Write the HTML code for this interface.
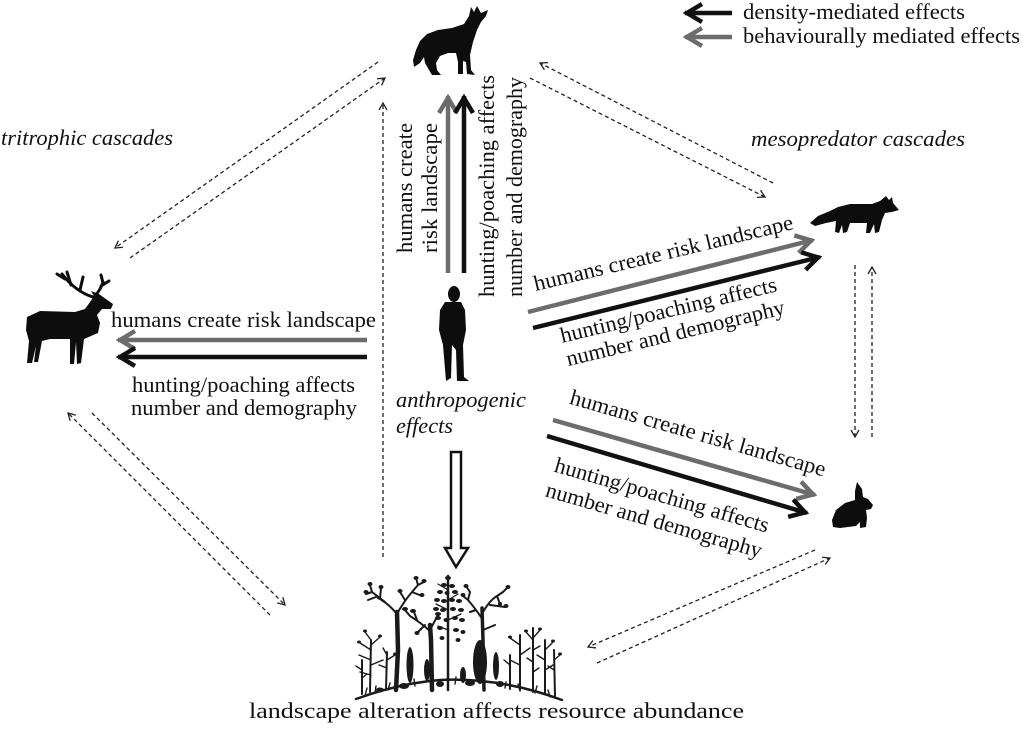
<!DOCTYPE html>
<html><head><meta charset="utf-8"><style>
html,body{margin:0;padding:0;background:#fff;}
svg{display:block;}
text{font-family:"Liberation Serif","Times New Roman",Times,serif;font-size:22px;fill:#111;}
.i{font-style:italic;}
</style></head><body>
<svg width="1024" height="731" viewBox="0 0 1024 731" xmlns="http://www.w3.org/2000/svg" font-family="Liberation Serif, Times New Roman, serif">
<defs>
<marker id="mb" viewBox="-22 -12 26 24" refX="0" refY="0" markerWidth="26" markerHeight="24" markerUnits="userSpaceOnUse" orient="auto">
<path d="M-17 -9 L-2 0 L-17 9" fill="none" stroke="#111" stroke-width="4.5" stroke-dasharray="none"/>
</marker>
<marker id="mg" viewBox="-22 -12 26 24" refX="0" refY="0" markerWidth="26" markerHeight="24" markerUnits="userSpaceOnUse" orient="auto">
<path d="M-17 -9 L-2 0 L-17 9" fill="none" stroke="#6c6c6c" stroke-width="4.5" stroke-dasharray="none"/>
</marker>
<marker id="md" viewBox="-10 -6 12 12" refX="0" refY="0" markerWidth="12" markerHeight="12" markerUnits="userSpaceOnUse" orient="auto">
<path d="M-7 -4 L0 0 L-7 4" fill="none" stroke="#222" stroke-width="1.3" stroke-dasharray="none"/>
</marker>
</defs>

<!-- legend -->
<line x1="732" y1="13" x2="685" y2="13" stroke="#111" stroke-width="4.5" marker-end="url(#mb)"/>
<line x1="732" y1="37" x2="685" y2="37" stroke="#6c6c6c" stroke-width="4.5" marker-end="url(#mg)"/>
<text x="743" y="19" textLength="222" lengthAdjust="spacingAndGlyphs">density-mediated effects</text>
<text x="743" y="43" textLength="277" lengthAdjust="spacingAndGlyphs">behaviourally mediated effects</text>

<text class="i" x="1" y="145" textLength="172" lengthAdjust="spacingAndGlyphs">tritrophic cascades</text>
<text class="i" x="751" y="146" textLength="214" lengthAdjust="spacingAndGlyphs">mesopredator cascades</text>

<!-- dashed connectors -->
<g stroke="#222" stroke-width="1.3" stroke-dasharray="4 3" fill="none">
<line x1="378" y1="62" x2="115" y2="248" marker-end="url(#md)"/>
<line x1="130" y1="258" x2="385" y2="78" marker-end="url(#md)"/>
<line x1="773" y1="183" x2="540" y2="63" marker-end="url(#md)"/>
<line x1="530" y1="78" x2="765" y2="197" marker-end="url(#md)"/>
<line x1="855" y1="265" x2="855" y2="437" marker-end="url(#md)"/>
<line x1="872" y1="437" x2="872" y2="267" marker-end="url(#md)"/>
<line x1="815" y1="550" x2="588" y2="647" marker-end="url(#md)"/>
<line x1="597" y1="663" x2="830" y2="558" marker-end="url(#md)"/>
<line x1="270" y1="615" x2="68" y2="413" marker-end="url(#md)"/>
<line x1="92" y1="413" x2="285" y2="605" marker-end="url(#md)"/>
<line x1="383" y1="557" x2="383" y2="103" marker-end="url(#md)"/>
</g>

<!-- thick arrows -->
<line x1="448" y1="273" x2="448" y2="96" stroke="#6c6c6c" stroke-width="4.5" marker-end="url(#mg)"/>
<line x1="464" y1="273" x2="464" y2="96" stroke="#111" stroke-width="4.5" marker-end="url(#mb)"/>
<line x1="367" y1="340" x2="118" y2="340" stroke="#6c6c6c" stroke-width="4.5" marker-end="url(#mg)"/>
<line x1="367" y1="357" x2="118" y2="357" stroke="#111" stroke-width="4.5" marker-end="url(#mb)"/>
<line x1="528" y1="312" x2="813" y2="240" stroke="#6c6c6c" stroke-width="4.5" marker-end="url(#mg)"/>
<line x1="533" y1="328" x2="820" y2="257" stroke="#111" stroke-width="4.5" marker-end="url(#mb)"/>
<line x1="553" y1="420" x2="815" y2="495" stroke="#6c6c6c" stroke-width="4.5" marker-end="url(#mg)"/>
<line x1="547" y1="436" x2="807" y2="513" stroke="#111" stroke-width="4.5" marker-end="url(#mb)"/>

<!-- hollow arrow -->
<polygon points="451,452 461,452 461,548 468,548 456,567 445,548 451,548" fill="#fff" stroke="#111" stroke-width="2.5" stroke-linejoin="miter"/>

<!-- wolf texts -->
<text text-anchor="middle" transform="translate(412,188) rotate(-90)" textLength="130" lengthAdjust="spacingAndGlyphs">humans create</text>
<text text-anchor="middle" transform="translate(437,188) rotate(-90)" textLength="130" lengthAdjust="spacingAndGlyphs">risk landscape</text>
<text text-anchor="middle" transform="translate(494,186) rotate(-90)" textLength="222" lengthAdjust="spacingAndGlyphs">hunting/poaching affects</text>
<text text-anchor="middle" transform="translate(522,187) rotate(-90)" textLength="220" lengthAdjust="spacingAndGlyphs">number and demography</text>

<!-- deer texts -->
<text x="111" y="327" textLength="265" lengthAdjust="spacingAndGlyphs">humans create risk landscape</text>
<text x="132" y="392" textLength="223" lengthAdjust="spacingAndGlyphs">hunting/poaching affects</text>
<text x="131" y="415" textLength="226" lengthAdjust="spacingAndGlyphs">number and demography</text>

<!-- anthropogenic -->
<text class="i" x="396" y="407" textLength="130" lengthAdjust="spacingAndGlyphs">anthropogenic</text>
<text class="i" x="396" y="433" textLength="57" lengthAdjust="spacingAndGlyphs">effects</text>

<!-- fox texts -->
<text text-anchor="middle" transform="translate(665,260) rotate(-13.5)" textLength="266" lengthAdjust="spacingAndGlyphs">humans create risk landscape</text>
<text text-anchor="middle" transform="translate(670,317) rotate(-13.5)" textLength="222" lengthAdjust="spacingAndGlyphs">hunting/poaching affects</text>
<text text-anchor="middle" transform="translate(677,340) rotate(-13.5)" textLength="224" lengthAdjust="spacingAndGlyphs">number and demography</text>

<!-- hare texts -->
<text text-anchor="middle" transform="translate(696,440) rotate(16)" textLength="265" lengthAdjust="spacingAndGlyphs">humans create risk landscape</text>
<text text-anchor="middle" transform="translate(660,502) rotate(16)" textLength="222" lengthAdjust="spacingAndGlyphs">hunting/poaching affects</text>
<text text-anchor="middle" transform="translate(652,527) rotate(16)" textLength="224" lengthAdjust="spacingAndGlyphs">number and demography</text>

<text x="249" y="718" textLength="495" lengthAdjust="spacingAndGlyphs">landscape alteration affects resource abundance</text>

<!-- wolf -->
<path fill="#0d0d0d" d="M488 10 L481 13 L477 6 L474 12 L471 7 L469 16 L464 24 L452 28 L438 30 L427 34 L420 41 L416 50 L413 60 L414 67 L420 63 L424 57 L425 63 L429 70 L432 75 L441 75 L437 70 L436 63 L440 56 L448 53 L456 53 L458 62 L458 74 L463 74 L463 61 L466 62 L467 74 L475 75 L471 70 L470 55 L473 42 L477 30 L481 22 L486 16 Z"/>

<!-- deer -->
<path fill="#0d0d0d" d="M27 317 L40 311 L75 312 L85 309 L90 302 L94 296 L91 291 L99 294 L103 297 L113 304 L111 309 L102 309 L97 315 L100 323 L98 333 L84 339 L81 363 L77 364 L76 342 L74 364 L70 364 L70 339 L50 339 L42 341 L38 362 L34 362 L36 346 L32 363 L27 363 L29 341 L26 330 Z"/>
<g stroke="#0d0d0d" stroke-width="3" fill="none" stroke-linecap="round">
<path d="M93 297 Q 76 292 62 274"/>
<path d="M71 285 L67 272"/>
<path d="M80 290 L83 277"/>
<path d="M65 279 L57 274"/>
<path d="M95 296 Q 101 289 103 282"/>
<path d="M101 286 L109 281"/>
<path d="M103 283 L101 275"/>
</g>

<!-- fox -->
<path fill="#0d0d0d" d="M810 223 L818 216 L830 211 L838 207 L850 204 L872 204 L880 201 L886 196 L889 200 L892 197 L893 203 L899 210 L892 212 L885 213 L882 220 L879 232 L875 233 L874 224 L870 233 L866 233 L867 223 L850 223 L847 232 L843 233 L842 225 L839 233 L835 232 L836 221 L826 223 L815 226 Z"/>

<!-- hare -->
<path fill="#0d0d0d" d="M857 482 L862 489 L863 497 L868 499 L873 505 L871 509 L866 510 L867 518 L866 527 L860 528 L860 522 L856 526 L840 528 L833 527 L832 520 L836 510 L845 503 L855 500 L855 491 Z"/>

<!-- human -->
<ellipse cx="454" cy="294" rx="6" ry="8" fill="#0d0d0d"/>
<path fill="#0d0d0d" d="M445 302 L461 302 L465 310 L466 330 L463 345 L464 377 L469 381 L457 381 L456 350 L452 345 L451 378 L446 381 L443 345 L439 330 L440 310 Z"/>

<!-- forest -->
<g stroke="#1a1a1a" fill="none" stroke-linecap="round">
<path d="M356 699 Q 400 683 440 680 Q 500 677 562 700" stroke-width="2.5"/>
<!-- tree A -->
<path d="M396 690 L398 650 L397 612" stroke-width="4.5"/>
<path d="M397 614 Q 388 603 378 598 M385 602 L372 592 M380 599 L381 588 M372 592 L366 594 M372 592 L370 585 M398 612 Q 405 600 412 592 M412 592 L418 585 M412 592 L422 596 M405 600 L400 592 M376 597 L368 600 M418 585 L416 578 M418 585 L424 582" stroke-width="2"/>
<!-- tree B -->
<path d="M448 690 L448 576" stroke-width="2.5"/>
<path d="M448 590 L438 584 M448 600 L458 594 M448 610 L436 604 M448 620 L461 614 M448 630 L438 626" stroke-width="1.3"/>
<!-- tree C -->
<path d="M484 690 L483 640 L482 608" stroke-width="3.5"/>
<path d="M483 620 Q 475 608 468 600 M468 600 L463 596 M468 600 L470 592 M483 612 Q 490 600 497 596 M497 596 L503 592 M497 596 L500 604 M490 605 L505 607 M476 610 L470 612 M483 630 L495 625 M470 592 L466 586 M503 592 L508 587" stroke-width="2"/>
<!-- tree D -->
<path d="M432 690 L431 640 L430 625" stroke-width="4.5"/>
<path d="M431 632 Q 420 622 410 616 M410 616 L405 610 M417 620 L414 612 M431 628 L438 615 M425 625 L418 632" stroke-width="2"/>
<!-- tree E -->
<path d="M370 692 L371 640 M386 690 L387 652 M362 694 L362 660" stroke-width="2"/>
<path d="M371 650 L360 643 M371 660 L359 655 M371 645 L380 637 M371 665 L383 660 M371 675 L360 672 M371 640 L365 632 M387 660 L395 655 M387 668 L379 665 M387 655 L383 648 M362 670 L356 666 M362 678 L367 674" stroke-width="1.4"/>
<!-- tree F -->
<path d="M520 690 L520 635 M545 694 L545 640 M533 692 L533 628 M555 696 L554 650 M510 689 L510 655" stroke-width="2"/>
<path d="M520 645 L510 638 M520 655 L530 648 M520 665 L510 660 M545 650 L553 642 M545 660 L537 655 M545 670 L553 665 M533 640 L526 632 M533 638 L540 630 M533 650 L540 646 M554 660 L560 655 M554 670 L548 666 M510 665 L504 660 M533 662 L527 658 M533 672 L539 668" stroke-width="1.4"/>
<!-- grass -->
<path d="M365 696 L367 688 M375 693 L376 686 M388 690 L390 683 M520 691 L518 684 M535 693 L537 686 M550 697 L548 690 M505 688 L506 682 M415 686 L414 679 M455 684 L456 677" stroke-width="1.4"/>
</g>
<g fill="#1a1a1a">
<!-- tree B foliage -->
<ellipse cx="448" cy="578" rx="3" ry="2"/>
<ellipse cx="444" cy="585" rx="3" ry="2"/><ellipse cx="452" cy="586" rx="3" ry="2"/>
<ellipse cx="440" cy="592" rx="3" ry="2"/><ellipse cx="447" cy="593" rx="2.5" ry="2"/><ellipse cx="455" cy="592" rx="3" ry="2"/>
<ellipse cx="437" cy="600" rx="3" ry="2"/><ellipse cx="444" cy="601" rx="3" ry="2"/><ellipse cx="452" cy="600" rx="3" ry="2"/><ellipse cx="459" cy="601" rx="3" ry="2"/>
<ellipse cx="436" cy="609" rx="3" ry="2"/><ellipse cx="443" cy="610" rx="3" ry="2"/><ellipse cx="453" cy="609" rx="3" ry="2"/><ellipse cx="461" cy="610" rx="3" ry="2"/>
<ellipse cx="438" cy="618" rx="3" ry="2"/><ellipse cx="446" cy="620" rx="2.5" ry="2"/><ellipse cx="455" cy="618" rx="3" ry="2"/><ellipse cx="462" cy="620" rx="3" ry="2"/>
<ellipse cx="440" cy="628" rx="3" ry="2"/><ellipse cx="456" cy="630" rx="3" ry="2"/><ellipse cx="463" cy="632" rx="2.5" ry="2"/>
<ellipse cx="442" cy="638" rx="2.5" ry="2"/><ellipse cx="458" cy="640" rx="2.5" ry="2"/>
<!-- leaf blobs -->
<ellipse cx="366" cy="592" rx="2.5" ry="2"/><ellipse cx="370" cy="584" rx="2.5" ry="2"/><ellipse cx="381" cy="587" rx="2.5" ry="2"/>
<ellipse cx="416" cy="578" rx="2.5" ry="2"/><ellipse cx="424" cy="581" rx="2.5" ry="2"/><ellipse cx="422" cy="595" rx="2.5" ry="2"/><ellipse cx="400" cy="591" rx="2.5" ry="2"/>
<ellipse cx="463" cy="595" rx="2.5" ry="2"/><ellipse cx="466" cy="586" rx="2.5" ry="2"/><ellipse cx="508" cy="587" rx="2.5" ry="2"/><ellipse cx="506" cy="606" rx="2.5" ry="2"/><ellipse cx="500" cy="604" rx="2" ry="2"/>
<ellipse cx="405" cy="609" rx="3" ry="2"/><ellipse cx="413" cy="611" rx="3" ry="2"/><ellipse cx="438" cy="614" rx="3" ry="2"/><ellipse cx="417" cy="633" rx="2.5" ry="2"/>
<ellipse cx="359" cy="642" rx="2" ry="1.5"/><ellipse cx="380" cy="636" rx="2" ry="1.5"/><ellipse cx="365" cy="631" rx="2" ry="1.5"/><ellipse cx="395" cy="654" rx="2" ry="1.5"/>
<ellipse cx="510" cy="637" rx="2" ry="1.5"/><ellipse cx="526" cy="631" rx="2" ry="1.5"/><ellipse cx="540" cy="629" rx="2" ry="1.5"/><ellipse cx="553" cy="641" rx="2" ry="1.5"/><ellipse cx="560" cy="654" rx="2" ry="1.5"/>
<!-- conifers -->
<ellipse cx="410" cy="665" rx="3.5" ry="18"/>
<ellipse cx="480" cy="662" rx="7" ry="22"/>
<ellipse cx="496" cy="666" rx="3" ry="14"/>
<ellipse cx="427" cy="670" rx="3" ry="11"/>
<ellipse cx="463" cy="675" rx="3" ry="8"/>
<!-- base shrubs -->
<ellipse cx="404" cy="686" rx="5" ry="3"/><ellipse cx="440" cy="684" rx="4" ry="3"/><ellipse cx="470" cy="683" rx="5" ry="3"/><ellipse cx="500" cy="684" rx="4" ry="3"/><ellipse cx="380" cy="690" rx="4" ry="2.5"/>
</g>
</svg>
</body></html>
